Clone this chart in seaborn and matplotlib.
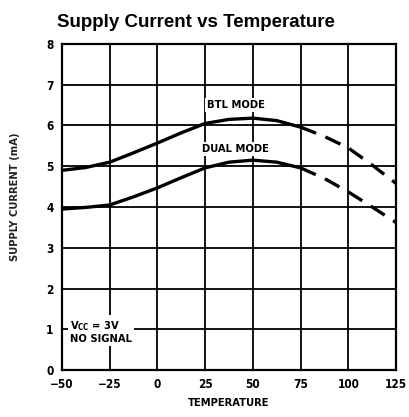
import numpy as np
import pandas as pd
import seaborn as sns
import matplotlib
matplotlib.use('Agg')
import matplotlib.pyplot as plt

# Data.
temperature = [-50, -37.5, -25, -12.5, 0, 12.5, 25, 37.5, 50, 62.5, 75,
               87.5, 100, 112.5, 125]
btl_current = [4.90, 4.97, 5.10, 5.33, 5.57, 5.82, 6.05, 6.15, 6.18, 6.12,
               5.96, 5.73, 5.45, 5.03, 4.58]
dual_current = [3.95, 3.99, 4.05, 4.25, 4.47, 4.72, 4.96, 5.10, 5.15, 5.10,
                4.96, 4.70, 4.37, 4.00, 3.62]
measured_limit = 75  # solid up to here, dashed afterwards

x_ticks = [-50, -25, 0, 25, 50, 75, 100, 125]
x_tick_labels = ['\u221250', '\u221225', '0', '25', '50', '75', '100', '125']
y_ticks = [0, 1, 2, 3, 4, 5, 6, 7, 8]

df = pd.concat([
    pd.DataFrame({'temp': temperature, 'current': btl_current, 'mode': 'BTL'}),
    pd.DataFrame({'temp': temperature, 'current': dual_current, 'mode': 'DUAL'}),
])

sns.set_style("white")
plt.rcParams['font.family'] = ['DejaVu Sans']
plt.rcParams['font.stretch'] = 'condensed'
plt.rcParams['text.color'] = 'black'
plt.rcParams['axes.labelcolor'] = 'black'
plt.rcParams['xtick.color'] = 'black'
plt.rcParams['ytick.color'] = 'black'

fig = plt.figure(figsize=(4.09, 4.17), dpi=100)
ax = fig.add_axes([0.1516, 0.1127, 0.8166, 0.7818])

solid = df[df['temp'] <= measured_limit]
dashed = df[df['temp'] >= measured_limit]
sns.lineplot(data=solid, x='temp', y='current', units='mode', estimator=None,
             color='black', lw=2.4, ax=ax, zorder=3)
sns.lineplot(data=dashed, x='temp', y='current', units='mode', estimator=None,
             color='black', lw=2.4, ax=ax, zorder=3)
for line in ax.lines[-2:]:
    line.set_dashes([5, 3])

ax.set_xlim(-50, 125)
ax.set_ylim(0, 8)
ax.set_xticks(x_ticks)
ax.set_xticklabels(x_tick_labels)
ax.set_yticks(y_ticks)
ax.grid(True, color='black', lw=1.3)
for s in ax.spines.values():
    s.set_color('black')
    s.set_linewidth(1.6)
ax.tick_params(length=0, labelsize=8.5, pad=6)
for lab in ax.get_xticklabels() + ax.get_yticklabels():
    lab.set_fontweight('bold')

ax.set_xlabel('TEMPERATURE', fontsize=8, fontweight='bold', labelpad=5)
ax.set_ylabel('SUPPLY CURRENT (mA)', fontsize=8, fontweight='bold',
              color='#222222')
ax.yaxis.set_label_coords(-0.125, 0.53)

box = dict(facecolor='white', edgecolor='none', pad=1.5)
ax.text(41, 6.5, 'BTL MODE', fontsize=8, fontweight='bold', ha='center',
        va='center', bbox=box, zorder=4)
ax.text(41, 5.42, 'DUAL MODE', fontsize=8, fontweight='bold', ha='center',
        va='center', bbox=box, zorder=4)
ax.text(-46, 0.95, 'V$_{\\mathregular{CC}}$ = 3V\nNO SIGNAL', fontsize=8,
        fontweight='bold', ha='left', va='center', bbox=box, zorder=4,
        linespacing=1.1)

fig.text(0.14, 0.945, 'Supply Current vs Temperature', fontsize=13.5,
         fontweight='bold', family='Liberation Sans', stretch='normal',
         ha='left', va='center')

fig.savefig('out.png', dpi=100)
